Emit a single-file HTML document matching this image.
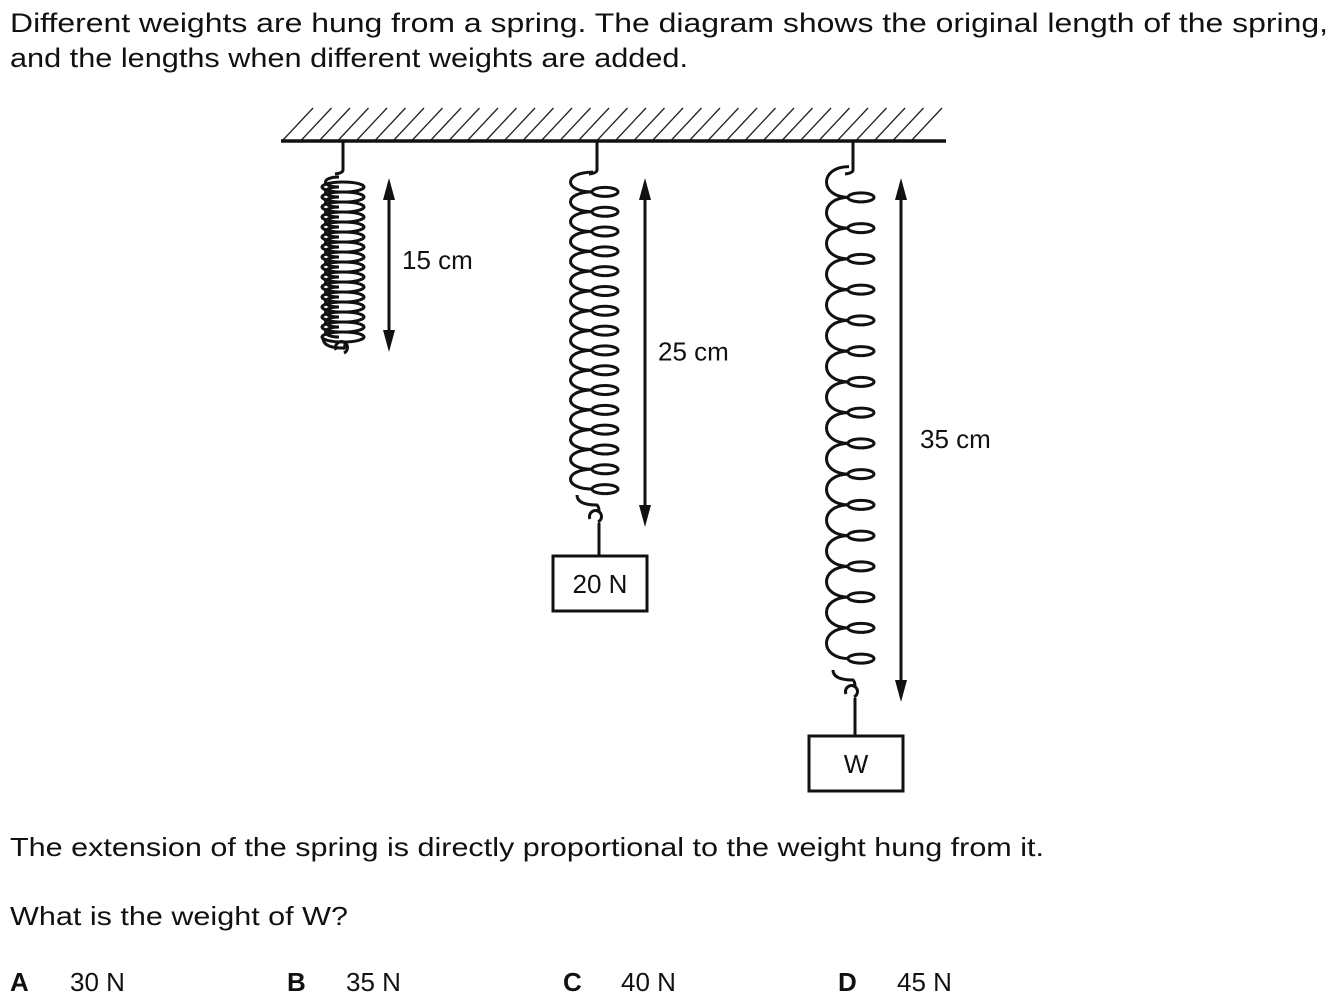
<!DOCTYPE html>
<html><head><meta charset="utf-8"><style>
html,body{margin:0;padding:0;background:#fff;}
svg{display:block;}
text{font-family:"Liberation Sans",Arial,sans-serif;fill:#111;}
</style></head><body>
<svg id="s" width="1333" height="1004" viewBox="0 0 1333 1004" xmlns="http://www.w3.org/2000/svg">
<text x="10" y="32" font-size="27" textLength="1318" lengthAdjust="spacingAndGlyphs">Different weights are hung from a spring. The diagram shows the original length of the spring,</text>
<text x="10" y="67" font-size="27" textLength="678" lengthAdjust="spacingAndGlyphs">and the lengths when different weights are added.</text>
<g id="ceiling"></g>
<g id="springs"></g>
<text x="10" y="856" font-size="26" textLength="1034" lengthAdjust="spacingAndGlyphs">The extension of the spring is directly proportional to the weight hung from it.</text>
<text x="10" y="925" font-size="26" textLength="338" lengthAdjust="spacingAndGlyphs">What is the weight of W?</text>
<g font-size="26">
<text x="10" y="991"><tspan font-weight="bold">A</tspan><tspan x="70">30 N</tspan></text>
<text x="287" y="991"><tspan font-weight="bold">B</tspan><tspan x="346">35 N</tspan></text>
<text x="563" y="991"><tspan font-weight="bold">C</tspan><tspan x="621">40 N</tspan></text>
<text x="838" y="991"><tspan font-weight="bold">D</tspan><tspan x="897">45 N</tspan></text>
</g>
</svg>
<script>
const lengthsCm = [15, 25, 35];
const weightLabels = [null, "20 N", "W"];
const lengthLabels = ["15 cm", "25 cm", "35 cm"];

const NS = "http://www.w3.org/2000/svg";
function mk(tag, attrs, parent){const e=document.createElementNS(NS,tag);for(const k in attrs)e.setAttribute(k,attrs[k]);parent.appendChild(e);return e;}
const ceil = document.getElementById('ceiling');
for(let x=283;x+30<=946;x+=18.5){
  const l=mk('line',{x1:x,y1:140,x2:x+30,y2:108,stroke:'#222','stroke-width':1.3},ceil);
  
  
}
const cl=mk('line',{x1:281,y1:141,x2:946,y2:141,stroke:'#111','stroke-width':3.5},ceil);



const sg=document.getElementById('springs');
const xs=[343,597,853];
const top0=178;
function yOf(cm){return top0 + (cm-15)*17.5 + 174;}
lengthsCm.forEach((L,i)=>{
  const g=mk('g',{},sg);
  
  
  const cx=xs[i];
  const bottom=yOf(L);
  const coilBottom=bottom-(i==0?14:32);
  mk('path',{d:`M${cx} 142 V${top0-8} Q${cx} ${top0-5} ${cx-8} ${top0-4}`,fill:'none',stroke:'#111','stroke-width':3},g);
  const n=16;
  const sp=(coilBottom-top0)/n;
  let d='';
  for(let k=0;k<n;k++){
    const y=top0+k*sp+sp/2+4;
    if(i==0){
      mk('ellipse',{cx:cx,cy:y,rx:21,ry:5,fill:'none',stroke:'#111','stroke-width':3},g);
    } else {
      mk('ellipse',{cx:cx+8,cy:y,rx:13,ry:4.5,fill:'none',stroke:'#111','stroke-width':3},g);
    }
    const lx=cx-(i==0?22:34);
    d+=`M${cx-4} ${y-sp} C${lx} ${y-sp} ${lx} ${y} ${cx-4} ${y} `;
  }
  mk('path',{d:d,fill:'none',stroke:'#111','stroke-width':3},g);
  const hy=coilBottom+(i==0?10:22);
  mk('path',{d:`M${cx-20} ${coilBottom} Q${cx-20} ${coilBottom+10} ${cx} ${coilBottom+10} Q${cx+2} ${coilBottom+12} ${cx+2} ${hy-6} M${cx-7} ${hy+2} A6 6 0 1 1 ${cx+1} ${hy+5}`,fill:'none',stroke:'#111','stroke-width':3},g);
  const ax=cx+(i==0?46:48);
  const ar=mk('g',{},g);
  
  
  mk('line',{x1:ax,y1:top0+18,x2:ax,y2:bottom-18,stroke:'#111','stroke-width':3},ar);
  mk('polygon',{points:`${ax-6},${top0+22} ${ax},${top0} ${ax+6},${top0+22}`,fill:'#111'},ar);
  mk('polygon',{points:`${ax-6},${bottom-22} ${ax},${bottom} ${ax+6},${bottom-22}`,fill:'#111'},ar);
  const t=mk('text',{x:ax+(i==2?19:13),y:(top0+bottom)/2+(i==0?4:8),'font-size':26},g);
  t.textContent=lengthLabels[i];
  
  
  if(weightLabels[i]){
    const by=bottom+(i==1?29:34);
    mk('line',{x1:cx+2,y1:hy+6,x2:cx+2,y2:by,stroke:'#111','stroke-width':3},g);
    const b=mk('rect',{x:cx-44,y:by,width:94,height:55,fill:'#fff',stroke:'#111','stroke-width':3},g);
    
    
    const wt=mk('text',{x:cx+3,y:by+37,'font-size':26,'text-anchor':'middle'},g);
    wt.textContent=weightLabels[i];
    
    
  }
});
</script>
</body></html>
